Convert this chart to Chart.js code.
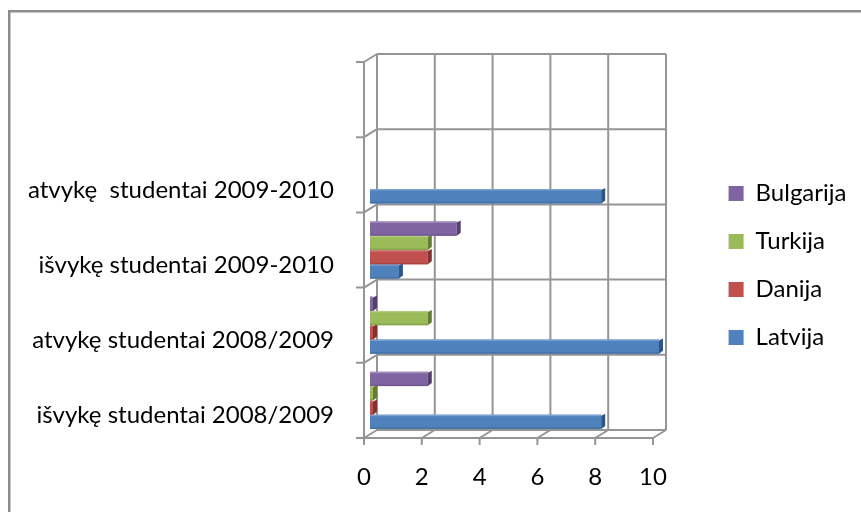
<!DOCTYPE html>
<html><head><meta charset="utf-8">
<script src="https://cdn.jsdelivr.net/npm/chart.js@4"></script>
<style>html,body{margin:0;padding:0;background:#fff;overflow:hidden}canvas{display:block}</style>
</head><body>
<canvas id="c" width="861" height="512"></canvas>
<script>
// ---- data (bottom category first, as in the original) ----
const categories = ["išvykę studentai 2008/2009", "atvykę studentai 2008/2009", "išvykę studentai 2009-2010", "atvykę  studentai 2009-2010", ""];
const seriesNames = ["Bulgarija", "Turkija", "Danija", "Latvija"];
const bulgarija = [2, 0, 3, null, null];
const turkija   = [0, 2, 2, null, null];
const danija    = [0, 0, 2, null, null];
const latvija   = [8, 10, 1, 8, null];
const seriesColors = ["#8064A2", "#9BBB59", "#C0504D", "#4F81BD"];
const xMin = 0, xMax = 10, xStep = 2;

// ---- layout / style ----
const FONT = "Lato";
const FSIZE = 24;
const AREA = {left: 370, right: 659, top: 62, bottom: 438};
const FRONT_DX = -6, BACK_DX = 7, BACK_DY = -8;
const GRID = "#959595";
const LEG_BOX_X = 726, LEG_PAD = 24;

function shade(hex, f) {
  const n = parseInt(hex.slice(1), 16);
  let r = n >> 16, g = (n >> 8) & 255, b = n & 255;
  const m = c => Math.max(0, Math.min(255, Math.round(f < 0 ? c * (1 + f) : c + (255 - c) * f)));
  return `rgb(${m(r)},${m(g)},${m(b)})`;
}

const framePlugin = {
  id: 'frame',
  beforeDraw(chart) {
    const ctx = chart.ctx;
    ctx.save();
    ctx.fillStyle = '#fff';
    ctx.fillRect(0, 0, chart.width, chart.height);
    ctx.strokeStyle = '#8c8c8c';
    ctx.lineWidth = 2.5;
    ctx.strokeRect(9.25, 11.25, chart.width + 20, chart.height + 20);
    ctx.restore();
  }
};

const gridPlugin = {
  id: 'grid3d',
  beforeDatasetsDraw(chart) {
    const ctx = chart.ctx, xs = chart.scales.x, ys = chart.scales.y;
    const n = categories.length;
    const bounds = [];
    for (let i = 0; i <= n; i++) bounds.push(ys.getPixelForValue(i - 0.5));
    const yTop = Math.min(...bounds), yBot = Math.max(...bounds);
    const vals = [];
    for (let v = xMin; v <= xMax + 1e-9; v += xStep) vals.push(v);
    const fx = v => xs.getPixelForValue(v) + FRONT_DX;
    const bx = v => xs.getPixelForValue(v) + BACK_DX;
    ctx.save();
    ctx.strokeStyle = GRID;
    ctx.lineWidth = 2;
    ctx.lineCap = 'butt';
    ctx.beginPath();
    vals.forEach(v => { ctx.moveTo(bx(v), yTop + BACK_DY); ctx.lineTo(bx(v), yBot + BACK_DY); });
    bounds.forEach(y => { ctx.moveTo(bx(xMin), y + BACK_DY); ctx.lineTo(bx(xMax), y + BACK_DY); });
    ctx.moveTo(fx(xMin), yTop); ctx.lineTo(fx(xMin), yBot);
    bounds.forEach(y => {
      ctx.moveTo(fx(xMin), y); ctx.lineTo(bx(xMin), y + BACK_DY);
      ctx.moveTo(fx(xMin) - 8, y); ctx.lineTo(fx(xMin), y);
    });
    ctx.moveTo(fx(xMin), yBot); ctx.lineTo(fx(xMax), yBot);
    vals.forEach(v => {
      ctx.moveTo(fx(v), yBot); ctx.lineTo(bx(v), yBot + BACK_DY);
      ctx.moveTo(fx(v), yBot); ctx.lineTo(fx(v), yBot + 7);
    });
    ctx.stroke();
    ctx.restore();
  }
};

const barFacePlugin = {
  id: 'barFaces',
  afterDatasetsDraw(chart) {
    const ctx = chart.ctx;
    ctx.save();
    for (let d = chart.data.datasets.length - 1; d >= 0; d--) {
      const meta = chart.getDatasetMeta(d);
      const col = chart.data.datasets[d].backgroundColor;
      meta.data.forEach((el, i) => {
        if (chart.data.datasets[d].data[i] === null) return;
        const p = el.getProps(['x', 'y', 'base', 'height'], true);
        const top = p.y - p.height / 2, bot = p.y + p.height / 2;
        const x0 = Math.min(p.base, p.x), x1 = Math.max(p.base, p.x);
        ctx.fillStyle = shade(col, 0.25);
        ctx.fillRect(x0, top, x1 - x0, 1.5);
        ctx.fillStyle = shade(col, -0.12);
        ctx.fillRect(x0, bot - 1.5, x1 - x0, 1.5);
        ctx.fillStyle = shade(col, -0.35);
        ctx.beginPath();
        ctx.moveTo(x1, top + 1);
        ctx.lineTo(x1 + 4, top - 1);
        ctx.lineTo(x1 + 4, bot - 3);
        ctx.lineTo(x1, bot);
        ctx.closePath();
        ctx.fill();
      });
    }
    ctx.restore();
  }
};

const seriesData = [bulgarija, turkija, danija, latvija];
const datasets = seriesNames.map((name, k) => ({
  label: name,
  data: seriesData[k],
  backgroundColor: seriesColors[k],
  borderWidth: 0,
  xAxisID: 'x',
  yAxisID: 'y',
  categoryPercentage: 0.76,
  barPercentage: 1.0,
  minBarLength: 3
}));

const chart = new Chart(document.getElementById('c'), {
  type: 'bar',
  data: {labels: categories, datasets},
  options: {
    indexAxis: 'y',
    responsive: false,
    animation: false,
    devicePixelRatio: 1,
    layout: {padding: {top: AREA.top, left: 0, bottom: 0, right: 0}},
    scales: {
      x: {
        type: 'linear', position: 'bottom', min: xMin, max: xMax,
        grid: {display: false, drawTicks: false}, border: {display: false},
        ticks: {stepSize: xStep, padding: 25, labelOffset: FRONT_DX, color: '#000',
                font: {family: FONT, size: FSIZE}},
        afterFit(s) { s.height = s.chart.height - AREA.bottom; }
      },
      y: {
        type: 'category', position: 'left', reverse: true, offset: true,
        grid: {display: false, drawTicks: false}, border: {display: false},
        ticks: {padding: 36, labelOffset: 15, autoSkip: false, maxRotation: 0, color: '#000',
                font: {family: FONT, size: FSIZE}},
        afterFit(s) { s.width = AREA.left; }
      },
      spacer: {
        type: 'linear', position: 'right', display: true,
        grid: {display: false, drawTicks: false}, border: {display: false},
        ticks: {display: false},
        afterFit(s) {
          const ch = s.chart;
          const pr = ch.options.layout.padding.right || 0;
          const lw = ch.legend ? ch.legend.width : 0;
          s.width = Math.max(0, ch.width - pr - lw - AREA.right);
        }
      }
    },
    plugins: {
      tooltip: {enabled: false},
      legend: {
        position: 'right', align: 'start',
        title: {display: true, text: '', padding: {top: 81, bottom: 0}, font: {size: 12}},
        labels: {boxWidth: 15, boxHeight: 15, padding: LEG_PAD, color: '#000',
                 font: {family: FONT, size: FSIZE}}
      }
    }
  },
  plugins: [framePlugin, gridPlugin, barFacePlugin]
});

// place legend box column at the reference position
const lw = chart.legend.width;
chart.options.layout.padding.right = Math.max(0, chart.width - (LEG_BOX_X - LEG_PAD) - lw);
chart.update('none');
</script>
</body></html>
